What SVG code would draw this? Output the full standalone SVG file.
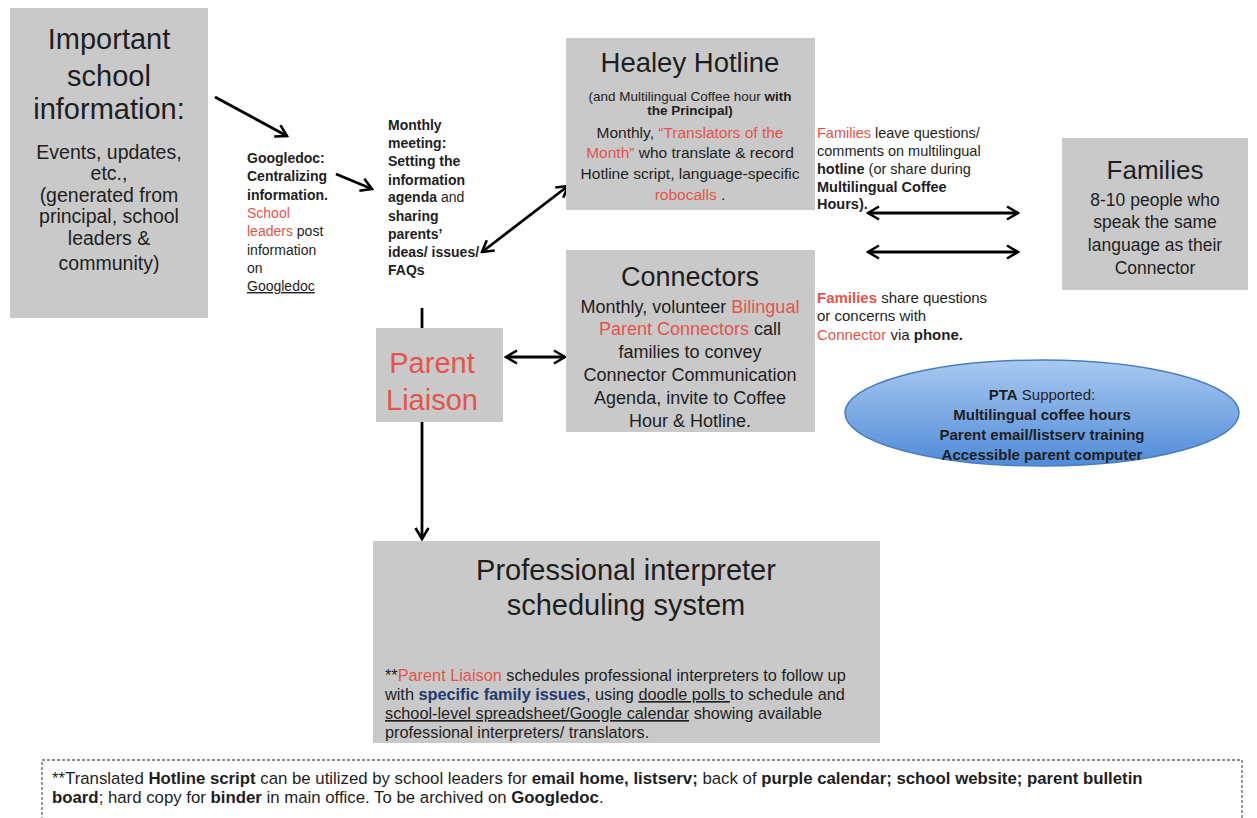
<svg xmlns="http://www.w3.org/2000/svg" width="1257" height="818" viewBox="0 0 1257 818">
<defs>
<style>
text{font-family:"Liberation Sans",Arial,sans-serif;fill:#1e1e1e}
.box{fill:#c9c9c9}
.c{text-anchor:middle}
.b{font-weight:bold}
.r{fill:#e4544b}
.nb{font-weight:normal}
.u{text-decoration:underline}
.blue{fill:#1f3a6e;font-weight:bold}
.ln{stroke:#000;stroke-width:2.8;fill:none}
</style>
<marker id="ah" markerUnits="userSpaceOnUse" markerWidth="16" markerHeight="16" viewBox="0 0 16 16" refX="14" refY="8" orient="auto-start-reverse">
<path d="M3,1.5 L14,8 L3,14.5" fill="none" stroke="#000" stroke-width="2.6" stroke-linejoin="miter"/>
</marker>
<linearGradient id="blueg" x1="0" y1="0" x2="0" y2="1">
<stop offset="0" stop-color="#a9c9f0"/>
<stop offset="1" stop-color="#4f8bd8"/>
</linearGradient>
</defs>
<rect width="1257" height="818" fill="#fff"/>

<g id="connectors">
<line class="ln" x1="215" y1="97" x2="287" y2="136" marker-end="url(#ah)"/>
<line class="ln" x1="336" y1="174" x2="372" y2="189" marker-end="url(#ah)"/>
<line class="ln" x1="482" y1="252" x2="568" y2="186" marker-start="url(#ah)" marker-end="url(#ah)"/>
<line class="ln" x1="422" y1="308" x2="422" y2="328"/>
<line class="ln" x1="506" y1="357" x2="565" y2="357" marker-start="url(#ah)" marker-end="url(#ah)"/>
<line class="ln" x1="422" y1="422" x2="422" y2="539" marker-end="url(#ah)"/>
<line class="ln" x1="868" y1="213" x2="1018" y2="213" marker-start="url(#ah)" marker-end="url(#ah)"/>
<line class="ln" x1="868" y1="252" x2="1018" y2="252" marker-start="url(#ah)" marker-end="url(#ah)"/>
</g>

<g id="important-info">
<rect class="box" x="10" y="8" width="198" height="310"/>
<text class="c" x="109" y="49" font-size="29">Important</text>
<text class="c" x="109" y="86" font-size="29">school</text>
<text class="c" x="109" y="119" font-size="29">information:</text>
<text class="c" x="109" y="159" font-size="19.5">Events, updates,</text>
<text class="c" x="109" y="180" font-size="19.5">etc.,</text>
<text class="c" x="109" y="202" font-size="19.5">(generated from</text>
<text class="c" x="109" y="223" font-size="19.5">principal, school</text>
<text class="c" x="109" y="245" font-size="19.5">leaders &amp;</text>
<text class="c" x="109" y="270" font-size="19.5">community)</text>
</g>

<g id="googledoc" font-size="14">
<text x="247" y="163" class="b">Googledoc:</text>
<text x="247" y="181" class="b">Centralizing</text>
<text x="247" y="200" class="b">information.</text>
<text x="247" y="218" class="r">School</text>
<text x="247" y="236"><tspan class="r">leaders</tspan> post</text>
<text x="247" y="255">information</text>
<text x="247" y="273">on</text>
<text x="247" y="291" class="u">Googledoc</text>
</g>

<g id="monthly-meeting" font-size="14">
<text x="388" y="130" class="b">Monthly</text>
<text x="388" y="148" class="b">meeting:</text>
<text x="388" y="166" class="b">Setting the</text>
<text x="388" y="185" class="b">information</text>
<text x="388" y="202" class="b">agenda <tspan class="nb">and</tspan></text>
<text x="388" y="221" class="b">sharing</text>
<text x="388" y="239" class="b">parents’</text>
<text x="388" y="257" class="b">ideas/ issues/</text>
<text x="388" y="275" class="b">FAQs</text>
</g>

<g id="healey-hotline">
<rect class="box" x="566" y="38" width="249" height="172"/>
<text class="c" x="690" y="72" font-size="27.5">Healey Hotline</text>
<text class="c" x="690" y="101" font-size="13.5">(and Multilingual Coffee hour <tspan class="b">with</tspan></text>
<text class="c b" x="690" y="115" font-size="13.5">the Principal)</text>
<text class="c" x="690" y="138" font-size="15.5">Monthly, <tspan class="r">“Translators of the</tspan></text>
<text class="c" x="690" y="158" font-size="15.5"><tspan class="r">Month”</tspan> who translate &amp; record</text>
<text class="c" x="690" y="179" font-size="15.5">Hotline script, language-specific</text>
<text class="c" x="690" y="200" font-size="15.5"><tspan class="r">robocalls</tspan> .</text>
</g>

<g id="connectors-box">
<rect class="box" x="566" y="250" width="249" height="182"/>
<text class="c" x="690" y="286" font-size="27">Connectors</text>
<text class="c" x="690" y="313" font-size="18">Monthly, volunteer <tspan class="r">Bilingual</tspan></text>
<text class="c" x="690" y="335" font-size="18"><tspan class="r">Parent  Connectors</tspan> call</text>
<text class="c" x="690" y="358" font-size="18">families to convey</text>
<text class="c" x="690" y="381" font-size="18">Connector Communication</text>
<text class="c" x="690" y="404" font-size="18">Agenda, invite to Coffee</text>
<text class="c" x="690" y="427" font-size="18">Hour &amp; Hotline.</text>
</g>

<g id="parent-liaison">
<rect class="box" x="376" y="328" width="127" height="94"/>
<text class="c r" x="432" y="373" font-size="29">Parent</text>
<text class="c r" x="432" y="410" font-size="29">Liaison</text>
</g>

<g id="families-hotline-note" font-size="14.5">
<text x="817" y="138"><tspan class="r">Families</tspan> leave questions/</text>
<text x="817" y="156">comments on multilingual</text>
<text x="817" y="174"><tspan class="b">hotline</tspan> (or share during</text>
<text x="817" y="192" class="b">Multilingual Coffee</text>
<text x="817" y="209" class="b">Hours).</text>
</g>

<g id="families-phone-note" font-size="15">
<text x="817" y="303"><tspan class="r b">Families</tspan> share questions</text>
<text x="817" y="321">or concerns with</text>
<text x="817" y="340"><tspan class="r">Connector</tspan> via <tspan class="b">phone.</tspan></text>
</g>

<g id="families">
<rect class="box" x="1062" y="138" width="186" height="152"/>
<text class="c" x="1155" y="179" font-size="26">Families</text>
<text class="c" x="1155" y="206" font-size="17.5">8-10 people who</text>
<text class="c" x="1155" y="228" font-size="17.5">speak the same</text>
<text class="c" x="1155" y="251" font-size="17.5">language as their</text>
<text class="c" x="1155" y="274" font-size="17.5">Connector</text>
</g>

<g id="pta">
<ellipse cx="1042" cy="413" rx="197" ry="53" fill="url(#blueg)" stroke="#4a7cc0" stroke-width="1.5"/>
<text class="c" x="1042" y="400" font-size="15"><tspan class="b">PTA</tspan> Supported:</text>
<text class="c b" x="1042" y="420" font-size="15">Multilingual coffee hours</text>
<text class="c b" x="1042" y="440" font-size="15">Parent email/listserv training</text>
<text class="c b" x="1042" y="460" font-size="15">Accessible parent computer</text>
</g>

<g id="professional-interpreter">
<rect class="box" x="373" y="541" width="507" height="202"/>
<text class="c" x="626" y="580" font-size="29">Professional interpreter</text>
<text class="c" x="626" y="615" font-size="29">scheduling system</text>
<text x="385" y="681" font-size="16.3">**<tspan class="r">Parent Liaison</tspan> schedules professional interpreters to follow up</text>
<text x="385" y="700" font-size="16.3">with <tspan class="blue">specific family issues</tspan>, using <tspan class="u">doodle polls </tspan>to schedule and</text>
<text x="385" y="719" font-size="16.3"><tspan class="u">school-level spreadsheet/Google calendar</tspan> showing available</text>
<text x="385" y="738" font-size="16.3">professional interpreters/ translators.</text>
</g>

<g id="hotline-script-note">
<rect x="42" y="760" width="1200" height="80" fill="none" stroke="#666" stroke-width="1.3" stroke-dasharray="3,2"/>
<text x="52" y="784" font-size="16.8">**Translated <tspan class="b">Hotline script</tspan> can be utilized by school leaders for <tspan class="b">email home, listserv;</tspan> back of <tspan class="b">purple calendar; school website; parent bulletin</tspan></text>
<text x="52" y="803" font-size="16.8"><tspan class="b">board</tspan>; hard copy for <tspan class="b">binder</tspan> in main office. To be archived on <tspan class="b">Googledoc</tspan>.</text>
</g>
</svg>
